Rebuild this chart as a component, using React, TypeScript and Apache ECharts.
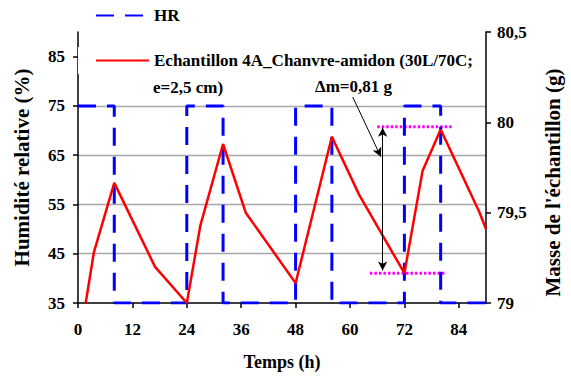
import React, { useEffect, useRef } from 'react';
import * as echarts from 'echarts';

// Tick values
const timeTicks = [0, 12, 24, 36, 48, 60, 72, 84];
const hrTicks = [35, 45, 55, 65, 75, 85];
const massTicks = [79, 79.5, 80, 80.5];

// HR (relative humidity, %) square cycle
const hrTime = [0, 8, 8, 24, 24, 32, 32, 48, 48, 56, 56, 72, 72, 80, 80, 90];
const hrValues = [75, 75, 35, 35, 75, 75, 35, 35, 75, 75, 35, 35, 75, 75, 35, 35];

// Sample mass (g)
const massTime = [1.7, 3.5, 8, 17, 24, 27, 32, 37, 48, 56, 62, 72, 76, 80, 88.5, 90];
const massValues = [79.0, 79.28, 79.665, 79.2, 79.0, 79.43, 79.88, 79.5, 79.11, 79.92, 79.6, 79.165, 79.73, 79.96, 79.505, 79.41];

// Δm markers
const dmTopTime = [66, 82.6];
const dmTopMass = 79.975;
const dmBottomTime = [64.4, 81];
const dmBottomMass = 79.165;
const arrowTime = 67.2;
const arrowMass = [79.97, 79.18];
const leaderTime = [60.6, 66.8];
const leaderMass = [80.14, 79.81];

const HR_NAME = 'HR';
const RED_NAME = 'Echantillon 4A_Chanvre-amidon (30L/70C; e=2,5 cm)';
const RED_LINE1 = 'Echantillon 4A_Chanvre-amidon (30L/70C;';
const RED_LINE2 = 'e=2,5 cm)';

const FONT = 'Liberation Serif';

export default function App() {
  const ref = useRef<HTMLDivElement>(null);
  useEffect(() => {
    document.body.style.margin = '0';
    const chart = echarts.init(ref.current!, null, { renderer: 'svg' });
    const txt = (size: number) => ({ fontFamily: FONT, fontWeight: 'bold' as const, fontSize: size, color: '#000' });
    chart.setOption({
      animation: false,
      backgroundColor: '#fff',
      grid: { left: 78, right: 76, top: 32, bottom: 82 },
      legend: [
        {
          data: [HR_NAME],
          left: 95,
          top: 7,
          padding: 0,
          itemWidth: 53,
          itemHeight: 14,
          itemStyle: { opacity: 0 },
          textStyle: txt(17),
        },
        {
          data: [RED_NAME],
          left: 78,
          top: 47,
          padding: [5, 9, 5, 17],
          backgroundColor: '#fff',
          itemWidth: 53,
          itemHeight: 14,
          itemStyle: { opacity: 0 },
          formatter: () => RED_LINE1,
          textStyle: txt(17),
        },
      ],
      xAxis: {
        type: 'value',
        min: 0,
        max: 90,
        interval: 12,
        name: 'Temps (h)',
        nameLocation: 'middle',
        nameGap: 50,
        nameTextStyle: txt(18),
        axisLine: { lineStyle: { color: '#000', width: 1.5 } },
        axisTick: { show: true, length: 5, customValues: timeTicks, lineStyle: { color: '#000', width: 1.5 } },
        axisLabel: { margin: 18, customValues: timeTicks, ...txt(17) },
        splitLine: { show: false },
      },
      yAxis: [
        {
          type: 'value',
          position: 'left',
          min: 35,
          max: 90,
          interval: 10,
          name: 'Humidité relative (%)',
          nameLocation: 'middle',
          nameGap: 46,
          nameTextStyle: txt(21),
          axisLine: { show: true, lineStyle: { color: '#000', width: 1.5 } },
          axisTick: { show: true, length: 5, customValues: hrTicks, lineStyle: { color: '#000', width: 1.5 } },
          axisLabel: { margin: 13, customValues: hrTicks, ...txt(17) },
          splitLine: { show: true, showMinLine: false, showMaxLine: false, lineStyle: { color: '#a8a8a8', width: 1.3 } },
        },
        {
          type: 'value',
          position: 'right',
          min: 79,
          max: 80.5,
          interval: 0.5,
          name: "Masse de l'échantillon (g)",
          nameLocation: 'middle',
          nameGap: 56,
          nameTextStyle: { ...txt(21), padding: [0, 30, 0, 0] },
          axisLine: { show: true, lineStyle: { color: '#000', width: 1.5 } },
          axisTick: { show: true, length: 5, customValues: massTicks, lineStyle: { color: '#000', width: 1.5 } },
          axisLabel: {
            margin: 11,
            customValues: massTicks,
            formatter: (v: number) => String(v).replace('.', ','),
            ...txt(17),
          },
          splitLine: { show: false },
        },
      ],
      series: [
        {
          name: HR_NAME,
          type: 'line',
          yAxisIndex: 0,
          symbol: 'none',
          data: hrTime.map((t, i) => [t, hrValues[i]]),
          lineStyle: { color: '#0000ff', width: 3, type: [18, 11] },
          itemStyle: { color: '#0000ff' },
          z: 3,
        },
        {
          name: RED_NAME,
          type: 'line',
          yAxisIndex: 1,
          symbol: 'none',
          data: massTime.map((t, i) => [t, massValues[i]]),
          lineStyle: { color: '#ff0000', width: 2.5 },
          itemStyle: { color: '#ff0000' },
          z: 4,
        },
        {
          name: 'dmTop',
          type: 'line',
          yAxisIndex: 1,
          symbol: 'none',
          data: dmTopTime.map((t) => [t, dmTopMass]),
          lineStyle: { color: '#ff00ff', width: 3, type: [2.5, 2] },
          z: 2,
          markLine: {
            silent: true,
            symbol: ['arrow', 'arrow'],
            symbolSize: [7, 9],
            label: { show: false },
            lineStyle: { color: '#000', width: 1, type: 'solid' },
            data: [
              [{ coord: [arrowTime, arrowMass[0]] }, { coord: [arrowTime, arrowMass[1]] }],
              [
                { coord: [leaderTime[0], leaderMass[0]], symbol: 'none' },
                { coord: [leaderTime[1], leaderMass[1]], symbol: 'arrow' },
              ],
            ],
          },
        },
        {
          name: 'dmBottom',
          type: 'line',
          yAxisIndex: 1,
          symbol: 'none',
          data: dmBottomTime.map((t) => [t, dmBottomMass]),
          lineStyle: { color: '#ff00ff', width: 3, type: [2.5, 2] },
          z: 2,
        },
      ],
      graphic: [
        {
          type: 'text',
          left: 153,
          top: 79,
          z: 10,
          style: { text: RED_LINE2, fontFamily: FONT, fontWeight: 'bold', fontSize: 17, fill: '#000' },
        },
        {
          type: 'text',
          left: 315,
          top: 78,
          z: 10,
          style: { text: 'Δm=0,81 g', fontFamily: FONT, fontWeight: 'bold', fontSize: 17, fill: '#000' },
        },
      ],
    });
    return () => chart.dispose();
  }, []);
  return <div ref={ref} style={{ width: 571, height: 385 }} />;
}
